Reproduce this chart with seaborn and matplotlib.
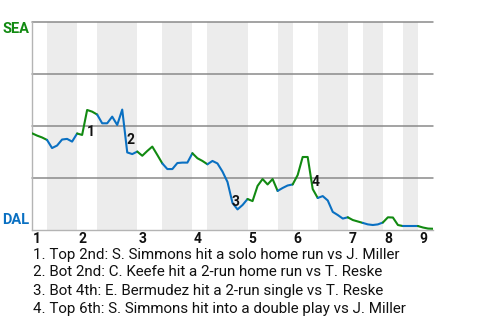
import matplotlib
matplotlib.use("Agg")
import matplotlib.pyplot as plt
import seaborn as sns
import pandas as pd
import numpy as np

# ---- data ----
# SEA win probability (%) after each plate appearance (index 0 = start of game)
sea_wp = [46.5, 45.4, 44.5, 43.3, 39.4, 40.6, 43.5, 43.8, 42.5, 46.4,
          45.7, 57.7, 56.9, 55.5, 51.3, 51.3, 54.5, 50.5, 57.9, 37.3,
          36.5, 37.7, 35.7, 38.0, 40.1, 36.1, 32.0, 29.3, 29.3, 32.2,
          32.4, 32.4, 36.9, 34.5, 33.2, 31.6, 33.2, 32.0, 28.1, 23.1,
          13.0, 9.9, 12.0, 14.9, 13.9, 21.2, 24.5, 21.9, 24.5, 18.8,
          20.2, 21.4, 21.9, 26.4, 35.1, 35.1, 19.7, 15.4, 16.3, 14.2,
          8.7, 7.2, 5.5, 6.1, 4.8, 4.1, 3.4, 2.7, 2.4, 2.7,
          3.6, 6.1, 6.0, 2.4, 1.9, 1.9, 1.9, 1.9, 1.2, 0.7, 0.6]
# plate appearances in each half-inning (top 1st, bot 1st, top 2nd, ...)
half_inning_pa = [3, 6, 4, 8, 5, 6, 3, 8, 6, 3, 5, 6, 3, 4, 4, 3, 3]
inning_labels = ["1", "2", "3", "4", "5", "6", "7", "8", "9"]
event_index = [11, 19, 40, 56]
event_labels = ["1", "2", "3", "4"]
event_texts = [
    "1. Top 2nd: S. Simmons hit a solo home run vs J. Miller",
    "2. Bot 2nd: C. Keefe hit a 2-run home run vs T. Reske",
    "3. Bot 4th: E. Bermudez hit a 2-run single vs T. Reske",
    "4. Top 6th: S. Simmons hit into a double play vs J. Miller",
]
team_top = "SEA"
team_bottom = "DAL"

GREEN = "#128a12"
BLUE = "#0a70c2"

sns.set_style("white")
plt.rcParams["font.family"] = ["Roboto", "DejaVu Sans"]

fig = plt.figure(figsize=(4.8, 3.2), dpi=100)
ax = fig.add_axes([32 / 480, 90 / 320, 401 / 480, 208 / 320])

bounds = np.concatenate([[0], np.cumsum(half_inning_pa)])
n = len(sea_wp) - 1

# shaded bottom halves
for k in range(len(half_inning_pa)):
    if k % 2 == 1:
        ax.axvspan(bounds[k], bounds[k + 1], color="#ececec", lw=0, zorder=0)

# grid lines
for v in [25, 50, 75, 100]:
    ax.axhline(v, color="#8a8a8a", lw=1.1, zorder=1, clip_on=False)

# build segment data frame
rows = []
for k in range(len(half_inning_pa)):
    for i in range(bounds[k], bounds[k + 1] + 1):
        rows.append({"idx": i, "wp": sea_wp[i], "seg": k})
df = pd.DataFrame(rows)
palette = {k: (GREEN if k % 2 == 0 else BLUE) for k in range(len(half_inning_pa))}
sns.lineplot(data=df, x="idx", y="wp", hue="seg", palette=palette,
             estimator=None, sort=False, legend=False, lw=1.5, ax=ax, zorder=3)

ax.set_xlim(0, n)
ax.set_ylim(0, 100)
ax.set_xticks([])
ax.set_yticks([])
ax.set_xlabel("")
ax.set_ylabel("")
for s in ["top", "right"]:
    ax.spines[s].set_visible(False)
for s in ["left", "bottom"]:
    ax.spines[s].set_color("#b4b4b4")
    ax.spines[s].set_linewidth(1.0)

# event markers
for idx, lab in zip(event_index, event_labels):
    mid = (sea_wp[idx - 1] + sea_wp[idx]) / 2
    ax.annotate(lab, (idx, mid), xytext=(-0.5, -1.5), textcoords="offset points",
                ha="left", va="top", fontsize=10, fontweight="bold", color="#111111",
                zorder=5)

# inning labels
inning_starts = bounds[0:len(bounds) - 1:2]
for st, lab in zip(inning_starts, inning_labels):
    ax.annotate(lab, (st, 0), xycoords=("data", "axes fraction"),
                xytext=(0.8, -1.2), textcoords="offset points",
                ha="left", va="top", fontsize=10, fontweight="bold", color="#111111",
                annotation_clip=False)

# team labels
fig.text(2.5 / 480, 1 - 29 / 320, team_top, ha="left", va="center",
         fontsize=10.5, fontweight="bold", color=GREEN)
fig.text(2.5 / 480, 1 - 220.5 / 320, team_bottom, ha="left", va="center",
         fontsize=10.5, fontweight="bold", color=BLUE)

# event descriptions
for j, t in enumerate(event_texts):
    fig.text(33 / 480, 1 - (254.5 + 18 * j) / 320, t, ha="left", va="center",
             fontsize=10.9, color="#111111")

fig.savefig("out.png", dpi=100)
